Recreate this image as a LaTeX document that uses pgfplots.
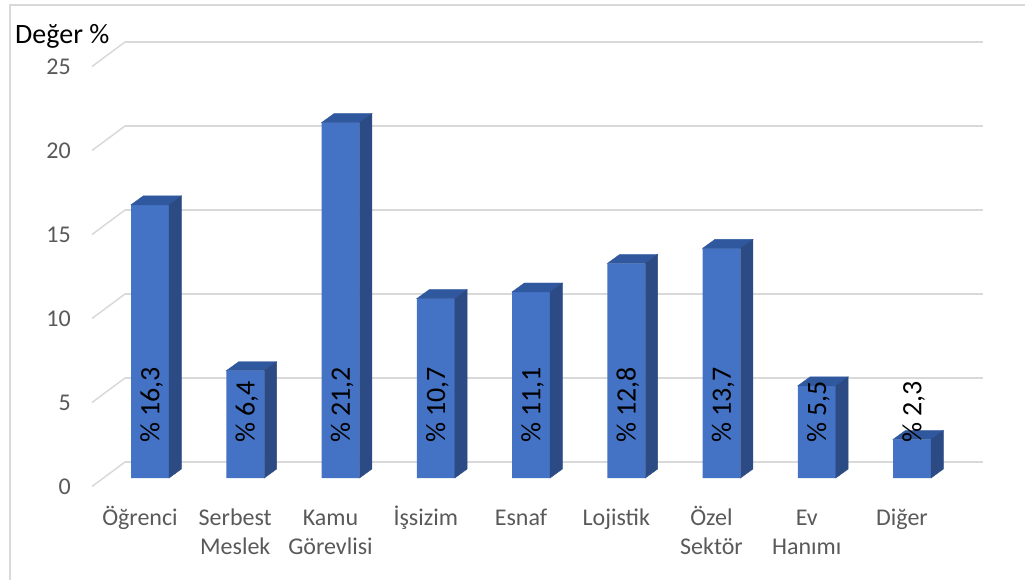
\documentclass[border=0pt]{standalone}
\usepackage{pgfplots}
\pgfplotsset{compat=1.18}
\usepackage{pgfplotstable}
\usepackage{fontspec}
\setmainfont{Carlito}
\definecolor{barfront}{HTML}{4472C4}
\definecolor{barside}{HTML}{2C4B85}
\definecolor{bartop}{HTML}{30589E}
\definecolor{gridc}{HTML}{D9D9D9}
\definecolor{tickc}{HTML}{595959}
\pgfdeclareplotmark{nothing}{}
\pgfplotstableread{
x y lab
0 16.3 16,3
1 6.4 6,4
2 21.2 21,2
3 10.7 10,7
4 11.1 11,1
5 12.8 12,8
6 13.7 13,7
7 5.5 5,5
8 2.3 2,3
}\data
\begin{document}
\begin{tikzpicture}[x=1pt,y=1pt]
\useasboundingbox (0,0) rectangle (1025,579);
\draw[gridc, line width=1.5pt] (10,-5) -- (10,574) -- (1030,574);
\node[anchor=base west, inner sep=0pt, font=\fontsize{28}{34}\selectfont] at (15,535) {Değer \%};
% back wall
\begin{axis}[at={(125pt,117pt)}, anchor=south west, scale only axis, width=858pt, height=420pt,
 xmin=0, xmax=1, ymin=0, ymax=25, ytick={0,5,...,25}, xtick=\empty,
 ymajorgrids, grid style={gridc, line width=1.5pt},
 axis line style={draw=none}, major tick style={draw=none},
 yticklabel style={anchor=east, inner sep=0pt, xshift=-54pt, yshift=-25pt, font=\fontsize{24}{29}\selectfont, text=tickc},
 /pgf/number format/assume math mode=true, clip=false]
\pgfplotsinvokeforeach{0,5,10,15,20,25}{\draw[gridc, line width=1.5pt] (axis cs:0,#1) -- ++(-33pt,-24.5pt);}
\end{axis}
% bars
\begin{axis}[at={(102.375pt,101pt)}, anchor=south west, scale only axis, width=857.25pt, height=419pt,
 xmin=-0.5, xmax=8.5, ymin=0, ymax=25, axis line style={draw=none}, major tick style={draw=none},
 ytick=\empty, xtick={0,...,8},
 xticklabels={{\strut Öğrenci},{\strut Serbest\\Meslek},{\strut Kamu\\Görevlisi},{\strut İşsizim},{\strut Esnaf},{\strut Lojistik},{\strut Özel\\Sektör},{\strut Ev\\Hanımı},{\strut Diğer}},
 xticklabel style={align=center, inner sep=0pt, yshift=-26.7pt, xshift=-10pt, font=\fontsize{24}{29}\selectfont, text=tickc},
 clip=false]
\addplot[ybar, bar width=38pt, fill=barfront, draw=none] table[x=x,y=y]{\data};
\addplot[scatter, only marks, mark=nothing, point meta=explicit symbolic,
  visualization depends on={\thisrow{y} \as \rawy},
  scatter/@pre marker code/.code={%
    \scope
    \pgfmathsetlengthmacro\h{\rawy*16.76}%
    \fill[bartop] (-19pt,0pt) -- (19pt,0pt) -- (31.4pt,9pt) -- (-6.6pt,9pt) -- cycle;
    \fill[barside] (19pt,0pt) -- (31.4pt,9pt) -- (31.4pt,{9pt-\h}) -- (19pt,{-\h}) -- cycle;
    \node[rotate=90, anchor=west, inner sep=0pt, font=\fontsize{28}{34}\selectfont] at (1.5pt,{35pt-\h}) {\% \pgfplotspointmeta};
  },
  scatter/@post marker code/.code={\endscope}]
  table[x=x,y=y,meta=lab]{\data};
\end{axis}
\end{tikzpicture}
\end{document}
